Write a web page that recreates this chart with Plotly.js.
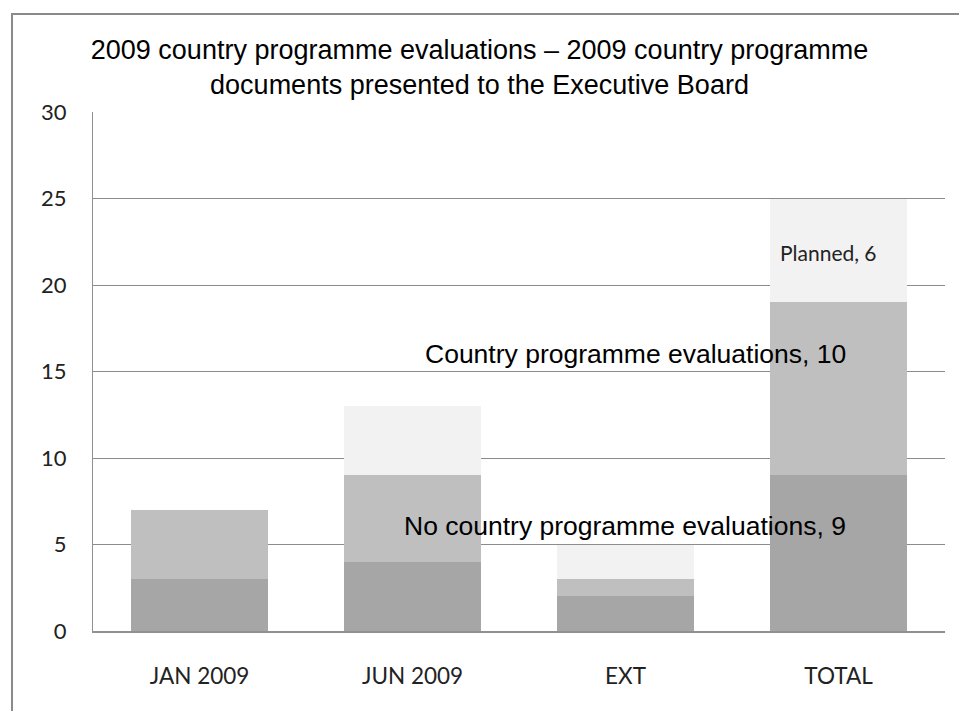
<!DOCTYPE html>
<html><head><meta charset="utf-8">
<script src="https://cdn.plot.ly/plotly-3.0.1.min.js"></script>
<style>
body{margin:0;padding:0;background:#fff;}
#chart{width:959px;height:711px;position:absolute;left:0;top:0;}
#frame{position:absolute;left:11px;top:13px;width:1000px;height:800px;border:2px solid #8a8a8a;pointer-events:none;}
</style></head>
<body>
<div id="chart"></div>
<div id="frame"></div>
<script>
const categories = ["JAN 2009", "JUN 2009", "EXT", "TOTAL"];
const noCPE = [3, 4, 2, 9];
const withCPE = [4, 5, 1, 10];
const planned = [0, 4, 2, 6];
const seriesNames = ["No country programme evaluations", "Country programme evaluations", "Planned"];
const yTicks = [0, 5, 10, 15, 20, 25, 30];

const tickFont = {family: "Lato, 'Open Sans', sans-serif", size: 22, color: "#222"};
const arial = "'Liberation Sans', Arial, sans-serif";
const traces = [
  {type: "bar", x: categories, y: noCPE, name: seriesNames[0], marker: {color: "#a6a6a6"}},
  {type: "bar", x: categories, y: withCPE, name: seriesNames[1], marker: {color: "#bfbfbf"}},
  {type: "bar", x: categories, y: planned, name: seriesNames[2], marker: {color: "#f2f2f2"}}
];
const layout = {
  width: 959, height: 711,
  barmode: "stack", bargap: 0.357,
  showlegend: false,
  paper_bgcolor: "#fff", plot_bgcolor: "#fff",
  margin: {l: 93, r: 14, t: 112, b: 80},
  title: {text: "2009 country programme evaluations – 2009 country programme<br>documents presented to the Executive Board",
    font: {family: arial, size: 27, color: "#000"},
    x: 0.5, xanchor: "center", y: 0.917, yanchor: "middle"},
  xaxis: {showgrid: false, showline: true, linecolor: "#909090", linewidth: 2, tickfont: {family: tickFont.family, size: 22.5, color: "#222"},
    ticks: "", ticklabelstandoff: 24, fixedrange: true, mirror: false},
  yaxis: {range: [0, 30], tickvals: yTicks, showgrid: true, gridcolor: "#8c8c8c", gridwidth: 1,
    showline: true, linecolor: "#909090", linewidth: 1, zeroline: false, tickfont: tickFont,
    ticks: "", ticklabelstandoff: 21},
  annotations: [
    {x: "TOTAL", y: 21.85, xshift: -10, text: seriesNames[2] + ", " + planned[3], showarrow: false,
      font: {family: tickFont.family, size: 21, color: "#222"}},
    {x: 2.049, y: 16.0, xref: "x", text: seriesNames[1] + ", " + withCPE[3], showarrow: false,
      font: {family: arial, size: 26.5, color: "#000"}},
    {x: 1.998, y: 6.07, xref: "x", text: seriesNames[0] + ", " + noCPE[3], showarrow: false,
      font: {family: arial, size: 26.5, color: "#000"}}
  ]
};
Plotly.newPlot("chart", traces, layout, {displayModeBar: false, staticPlot: true});
</script>
</body></html>
